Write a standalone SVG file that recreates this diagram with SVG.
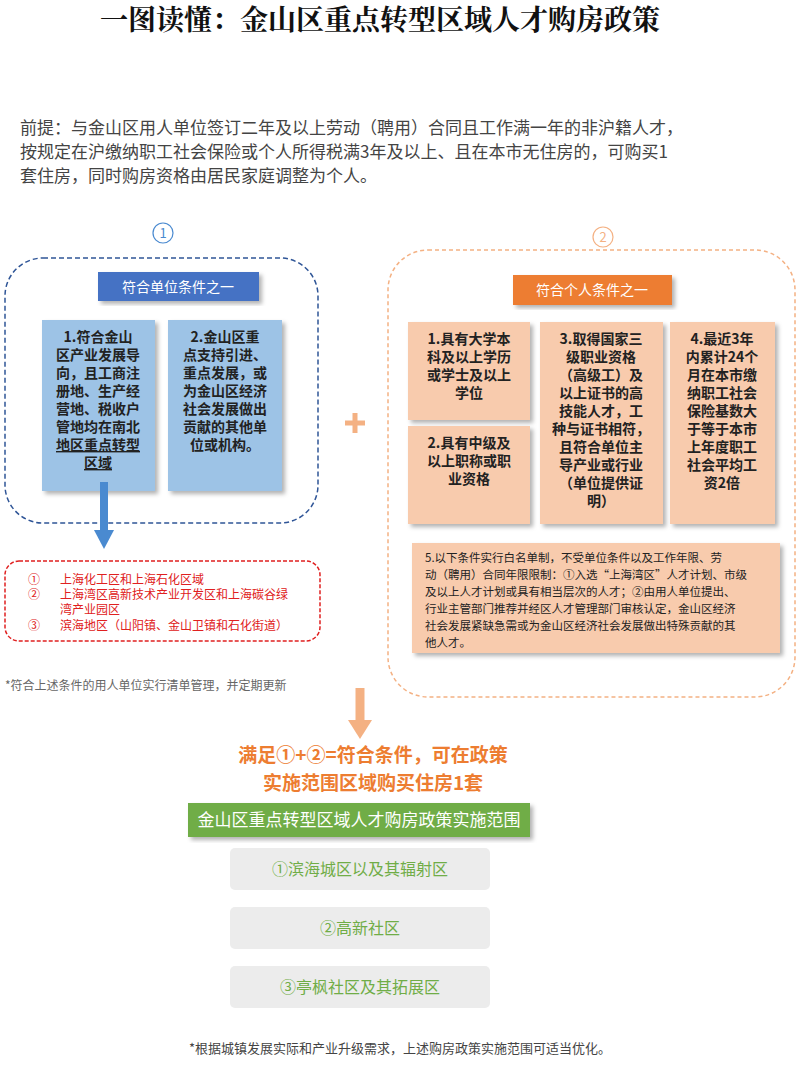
<svg xmlns="http://www.w3.org/2000/svg" width="800" height="1092" viewBox="0 0 800 1092">
<defs>
<filter id="sh" x="-10%" y="-10%" width="125%" height="125%"><feDropShadow dx="3" dy="3" stdDeviation="2" flood-color="#000" flood-opacity="0.3"/></filter>
</defs>
<style>
text{font-family:"Noto Sans CJK SC","Noto Sans",sans-serif}
.b{fill:#9dc3e6;filter:url(#sh)}
.o{fill:#f8cbad;filter:url(#sh)}
.bt{font-size:14px;fill:#222;font-weight:bold;text-anchor:middle}
.rt{font-size:12px;fill:#e02020}
.gb{fill:#ececec}
.gt{font-size:16px;fill:#70ad47;text-anchor:middle}
</style>
<rect width="800" height="1092" fill="#fff"/>
<text x="380" y="30" font-size="28" font-weight="bold" text-anchor="middle" fill="#111" style="font-family:'Noto Serif CJK SC','Noto Sans CJK SC',serif">一图读懂：金山区重点转型区域人才购房政策</text>
<g font-size="17" fill="#444">
<text x="20" y="134">前提：与金山区用人单位签订二年及以上劳动（聘用）合同且工作满一年的非沪籍人才，</text>
<text x="20" y="158">按规定在沪缴纳职工社会保险或个人所得税满3年及以上、且在本市无住房的，可购买1</text>
<text x="20" y="182">套住房，同时购房资格由居民家庭调整为个人。</text>
</g>
<g id="unit">
<circle cx="163" cy="233" r="10" fill="none" stroke="#4a8ad0" stroke-width="1.2"/>
<text x="163" y="238" font-size="13" fill="#4a8ad0" text-anchor="middle">1</text>
<rect x="5" y="258" width="313" height="265" rx="38" fill="none" stroke="#2f5597" stroke-width="1.5" stroke-dasharray="5,3"/>
<rect x="98" y="272" width="161" height="29" fill="#4472c4" filter="url(#sh)"/>
<text x="178" y="292" font-size="14" fill="#fff" text-anchor="middle">符合单位条件之一</text>
<rect class="b" x="42" y="320" width="113" height="171"/>
<text class="bt"><tspan x="98" y="342">1.符合金山</tspan><tspan x="98" y="360">区产业发展导</tspan><tspan x="98" y="378">向，且工商注</tspan><tspan x="98" y="396">册地、生产经</tspan><tspan x="98" y="414">营地、税收户</tspan><tspan x="98" y="432">管地均在南北</tspan><tspan x="98" y="450" text-decoration="underline">地区重点转型</tspan><tspan x="98" y="468" text-decoration="underline">区域</tspan></text>
<rect class="b" x="168" y="320" width="114" height="171"/>
<text class="bt"><tspan x="225" y="342">2.金山区重</tspan><tspan x="225" y="360">点支持引进、</tspan><tspan x="225" y="378">重点发展，或</tspan><tspan x="225" y="396">为金山区经济</tspan><tspan x="225" y="414">社会发展做出</tspan><tspan x="225" y="432">贡献的其他单</tspan><tspan x="225" y="450">位或机构。</tspan></text>
</g>
<g id="connectors">
<path d="M104,482 V532" stroke="#4a8ad0" stroke-width="8" fill="none"/>
<path d="M94,530 L114,530 L104,549 z" fill="#4a8ad0"/>
<path d="M360,688 V722" stroke="#f4b183" stroke-width="9" fill="none"/>
<path d="M348,720 L372,720 L360,739 z" fill="#f4b183"/>
</g>
<g id="regions">
<rect x="5" y="561" width="315" height="80" rx="14" fill="none" stroke="#e02020" stroke-width="1.5" stroke-dasharray="4,2"/>
<text class="rt" x="28" y="584">①</text><text class="rt" x="60" y="584">上海化工区和上海石化区域</text>
<text class="rt" x="28" y="599">②</text><text class="rt" x="60" y="599">上海湾区高新技术产业开发区和上海碳谷绿</text>
<text class="rt" x="60" y="614">湾产业园区</text>
<text class="rt" x="28" y="630">③</text><text class="rt" x="60" y="630">滨海地区（山阳镇、金山卫镇和石化街道）</text>
</g>
<text x="5" y="690" font-size="12" fill="#666">*符合上述条件的用人单位实行清单管理，并定期更新</text>
<path d="M355,413 V433 M345,423 H365" stroke="#f4b183" stroke-width="5"/>
<g id="personal">
<circle cx="603" cy="237" r="10" fill="none" stroke="#f4b183" stroke-width="1.2"/>
<text x="603" y="242" font-size="13" fill="#f4b183" text-anchor="middle">2</text>
<rect x="388" y="250" width="407" height="447" rx="40" fill="none" stroke="#f4b183" stroke-width="1.5" stroke-dasharray="4,3"/>
<rect x="513" y="275" width="159" height="30" fill="#ed7d31" filter="url(#sh)"/>
<text x="592" y="295" font-size="14" fill="#fff" text-anchor="middle">符合个人条件之一</text>
<rect class="o" x="408" y="322" width="122" height="98"/>
<text class="bt"><tspan x="469" y="344">1.具有大学本</tspan><tspan x="469" y="362">科及以上学历</tspan><tspan x="469" y="380">或学士及以上</tspan><tspan x="469" y="398">学位</tspan></text>
<rect class="o" x="408" y="426" width="122" height="98"/>
<text class="bt"><tspan x="469" y="448">2.具有中级及</tspan><tspan x="469" y="466">以上职称或职</tspan><tspan x="469" y="484">业资格</tspan></text>
<rect class="o" x="540" y="322" width="123" height="202"/>
<text class="bt"><tspan x="601" y="344">3.取得国家三</tspan><tspan x="601" y="362">级职业资格</tspan><tspan x="601" y="380">（高级工）及</tspan><tspan x="601" y="398">以上证书的高</tspan><tspan x="601" y="416">技能人才，工</tspan><tspan x="601" y="434">种与证书相符，</tspan><tspan x="601" y="452">且符合单位主</tspan><tspan x="601" y="470">导产业或行业</tspan><tspan x="601" y="488">（单位提供证</tspan><tspan x="601" y="506">明）</tspan></text>
<rect class="o" x="670" y="322" width="105" height="202"/>
<text class="bt"><tspan x="722" y="344">4.最近3年</tspan><tspan x="722" y="362">内累计24个</tspan><tspan x="722" y="380">月在本市缴</tspan><tspan x="722" y="398">纳职工社会</tspan><tspan x="722" y="416">保险基数大</tspan><tspan x="722" y="434">于等于本市</tspan><tspan x="722" y="452">上年度职工</tspan><tspan x="722" y="470">社会平均工</tspan><tspan x="722" y="488">资2倍</tspan></text>
<rect class="o" x="412" y="543" width="368" height="110"/>
<text font-size="11.5" fill="#222"><tspan x="425" y="562">5.以下条件实行白名单制，不受单位条件以及工作年限、劳</tspan><tspan x="425" y="579">动（聘用）合同年限限制：①入选“上海湾区”人才计划、市级</tspan><tspan x="425" y="596">及以上人才计划或具有相当层次的人才；②由用人单位提出、</tspan><tspan x="425" y="613">行业主管部门推荐并经区人才管理部门审核认定，金山区经济</tspan><tspan x="425" y="630">社会发展紧缺急需或为金山区经济社会发展做出特殊贡献的其</tspan><tspan x="425" y="647">他人才。</tspan></text>
</g>
<g id="result">
<text x="373" y="762" font-size="19" font-weight="bold" fill="#ed7d31" text-anchor="middle">满足①+②=符合条件，可在政策</text>
<text x="373" y="790" font-size="19" font-weight="bold" fill="#ed7d31" text-anchor="middle">实施范围区域购买住房1套</text>
</g>
<g id="scope">
<rect x="188" y="803" width="342" height="34" fill="#70ad47" filter="url(#sh)"/>
<text x="359" y="826" font-size="17" fill="#fff" text-anchor="middle">金山区重点转型区域人才购房政策实施范围</text>
<rect class="gb" x="230" y="848" width="260" height="42" rx="5"/>
<text class="gt" x="360" y="875">①滨海城区以及其辐射区</text>
<rect class="gb" x="230" y="907" width="260" height="42" rx="5"/>
<text class="gt" x="360" y="934">②高新社区</text>
<rect class="gb" x="230" y="966" width="260" height="42" rx="5"/>
<text class="gt" x="360" y="993">③亭枫社区及其拓展区</text>
</g>
<text x="400" y="1053" font-size="13" fill="#444" text-anchor="middle">*根据城镇发展实际和产业升级需求，上述购房政策实施范围可适当优化。</text>
</svg>
